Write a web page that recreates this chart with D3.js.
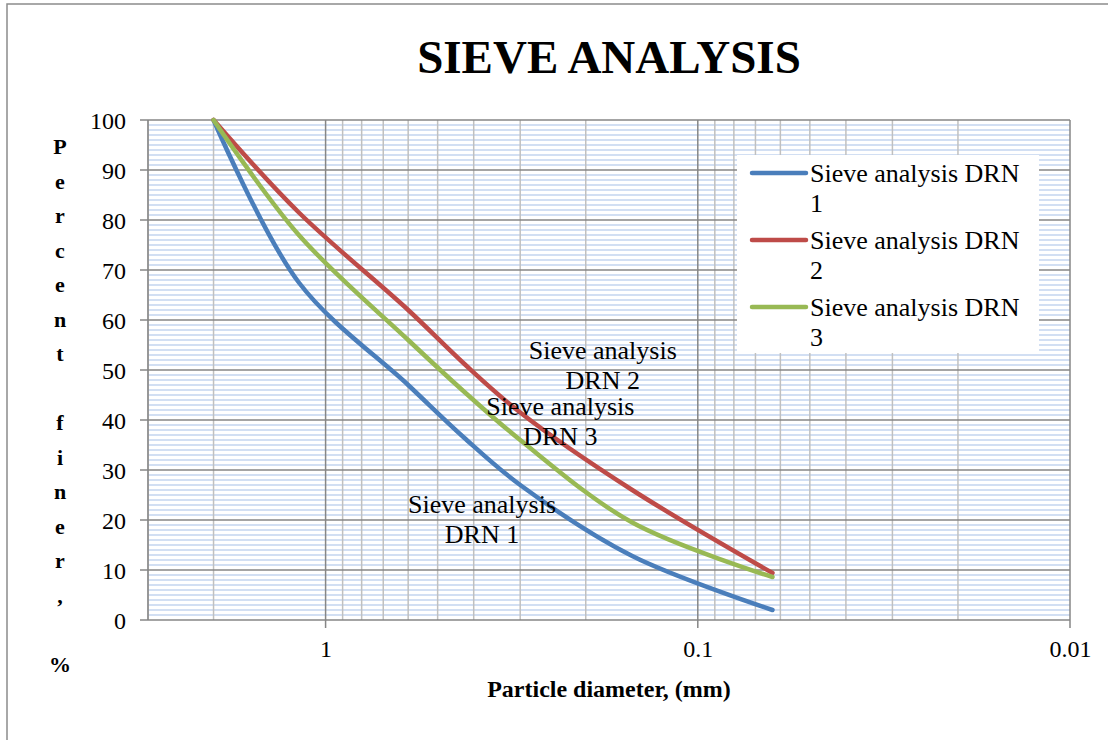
<!DOCTYPE html>
<html>
<head>
<meta charset="utf-8">
<script src="https://cdn.jsdelivr.net/npm/d3@7"></script>
<style>
  body { margin: 0; background: #fff; }
  svg text { font-family: "Liberation Serif", "Times New Roman", serif; fill: #000; }
</style>
</head>
<body>
<div id="chart"></div>
<script>
//Datos
const sizes = [2, 1.18, 0.6, 0.425, 0.3, 0.15, 0.063];
const drn1 = [100, 67.5, 47, 36.5, 27, 12.8, 2];
const drn2 = [100, 81.5, 62, 51.3, 41.5, 26, 9.4];
const drn3 = [100, 77, 56, 45.7, 36, 19.5, 8.6];
const seriesNames = ['Sieve analysis DRN 1', 'Sieve analysis DRN 2', 'Sieve analysis DRN 3'];
const seriesColors = ['#4A7EBB', '#BE4B48', '#98B954'];
const yTicks = [0, 10, 20, 30, 40, 50, 60, 70, 80, 90, 100];
const xTicks = [1, 0.1, 0.01];
const xTickLabels = ['1', '0.1', '0.01'];
const yTitle = 'Percent finer, %';
//Posición de las etiquetas de datos (en unidades del gráfico)
const labelPos = [[0.38, 21.5], [0.18, 52.2], [0.234, 41]];

const W = 1108, H = 740;
const margin = {top: 120, right: 38, bottom: 120, left: 148};
const width = W - margin.left - margin.right,
    height = H - margin.top - margin.bottom;

let svg = d3.select('#chart')
    .append('svg')
        .attr('width', W)
        .attr('height', H);

//Borde del área del gráfico
svg.append('rect')
    .attr('x', 7).attr('y', 4)
    .attr('width', W + 20).attr('height', H + 20)
    .attr('fill', '#fff')
    .attr('stroke', '#8c8c8c')
    .attr('stroke-width', 1.5);

let g = svg.append('g')
    .attr('transform', 'translate(' + margin.left + ',' + margin.top + ')');

let x = d3.scaleLog()
    .domain([3, 0.01])
    .range([0, width]);

let y = d3.scaleLinear()
    .domain([0, 100])
    .range([height, 0]);

/// REJILLA
//Menores horizontales (azul claro)
g.append('g')
    .selectAll('line')
    .data(y.ticks(100).filter(function(d) { return d % 10 != 0; }))
    .enter()
    .append('line')
    .attr('x1', 0).attr('x2', width)
    .attr('y1', function(d) { return y(d); })
    .attr('y2', function(d) { return y(d); })
    .attr('stroke', '#c3d5ef')
    .attr('stroke-width', 1.7);

//Menores verticales
let xAll = x.ticks();
g.append('g')
    .selectAll('line')
    .data(xAll.filter(function(d) { return Math.abs(Math.log10(d) - Math.round(Math.log10(d))) > 1e-6; }))
    .enter()
    .append('line')
    .attr('x1', function(d) { return x(d); })
    .attr('x2', function(d) { return x(d); })
    .attr('y1', 0).attr('y2', height)
    .attr('stroke', '#c0c0c0')
    .attr('stroke-width', 1.5);

//Mayores horizontales
g.append('g')
    .selectAll('line')
    .data(yTicks)
    .enter()
    .append('line')
    .attr('x1', -8).attr('x2', width)
    .attr('y1', function(d) { return y(d); })
    .attr('y2', function(d) { return y(d); })
    .attr('stroke', '#868686')
    .attr('stroke-width', 1.5);

//Mayores verticales
g.append('g')
    .selectAll('line')
    .data(xTicks)
    .enter()
    .append('line')
    .attr('x1', function(d) { return x(d); })
    .attr('x2', function(d) { return x(d); })
    .attr('y1', 0).attr('y2', height + 8)
    .attr('stroke', '#868686')
    .attr('stroke-width', 1.5);

//Eje izquierdo
g.append('line')
    .attr('x1', 0).attr('x2', 0)
    .attr('y1', 0).attr('y2', height)
    .attr('stroke', '#868686')
    .attr('stroke-width', 1.5);

/// EJES (etiquetas)
let yAxis = d3.axisLeft(y).tickValues(yTicks).tickSize(0).tickPadding(22);
g.append('g')
    .call(yAxis)
    .call(function(g) { g.select('.domain').remove(); })
    .selectAll('text')
    .style('font-size', '24px')
    .style('font-family', '"Liberation Serif", serif')
    .attr('dy', '0.34em');

let xAxis = d3.axisBottom(x).tickValues(xTicks).tickSize(0).tickPadding(20)
    .tickFormat(function(d, i) { return xTickLabels[i]; });
g.append('g')
    .attr('transform', 'translate(0,' + height + ')')
    .call(xAxis)
    .call(function(g) { g.select('.domain').remove(); })
    .selectAll('text')
    .style('font-size', '24px')
    .style('font-family', '"Liberation Serif", serif');

/// LÍNEAS
let line = d3.line()
    .x(function(d) { return x(d[0]); })
    .y(function(d) { return y(d[1]); })
    .curve(d3.curveCatmullRom.alpha(0.5));

[drn1, drn2, drn3].forEach(function(serie, i) {
    g.append('path')
        .datum(sizes.map(function(s, j) { return [s, serie[j]]; }))
        .attr('fill', 'none')
        .attr('stroke', seriesColors[i])
        .attr('stroke-width', 4.5)
        .attr('stroke-linecap', 'round')
        .attr('stroke-linejoin', 'round')
        .attr('d', line);
});

//Etiquetas de datos
labelPos.forEach(function(p, i) {
    let t = g.append('text')
        .attr('x', x(p[0]))
        .attr('y', y(p[1]))
        .attr('text-anchor', 'middle')
        .style('font-size', '26px');
    t.append('tspan').attr('x', x(p[0])).text('Sieve analysis');
    t.append('tspan').attr('x', x(p[0])).attr('dy', 30).text(seriesNames[i].replace('Sieve analysis ', ''));
});

/// LEYENDA
let legend = g.append('g')
    .attr('transform', 'translate(' + (737 - margin.left) + ',' + (155 - margin.top) + ')');

legend.append('rect')
    .attr('width', 302).attr('height', 198)
    .attr('fill', '#fff');

seriesNames.forEach(function(name, i) {
    let item = legend.append('g')
        .attr('transform', 'translate(0,' + (18 + i * 67) + ')');
    item.append('line')
        .attr('x1', 15).attr('x2', 69)
        .attr('y1', 0).attr('y2', 0)
        .attr('stroke', seriesColors[i])
        .attr('stroke-width', 4.5)
        .attr('stroke-linecap', 'round');
    let t = item.append('text')
        .attr('x', 73).attr('y', 9)
        .style('font-size', '26px');
    t.append('tspan').attr('x', 73).text('Sieve analysis DRN');
    t.append('tspan').attr('x', 73).attr('dy', 30).text(String(i + 1));
});

/// TÍTULOS
svg.append('text')
    .attr('x', margin.left + width / 2)
    .attr('y', 73)
    .attr('text-anchor', 'middle')
    .style('font-size', '47px')
    .style('font-weight', 'bold')
    .text('SIEVE ANALYSIS');

svg.append('text')
    .attr('x', margin.left + width / 2)
    .attr('y', 697)
    .attr('text-anchor', 'middle')
    .style('font-size', '24px')
    .style('font-weight', 'bold')
    .text('Particle diameter, (mm)');

//Título vertical letra a letra
let yt = svg.append('text')
    .attr('text-anchor', 'middle')
    .style('font-size', '22px')
    .style('font-weight', 'bold');
yTitle.split('').forEach(function(c, i) {
    yt.append('tspan')
        .attr('x', 60)
        .attr('y', 154 + i * 34.5)
        .text(c);
});
</script>
</body>
</html>
